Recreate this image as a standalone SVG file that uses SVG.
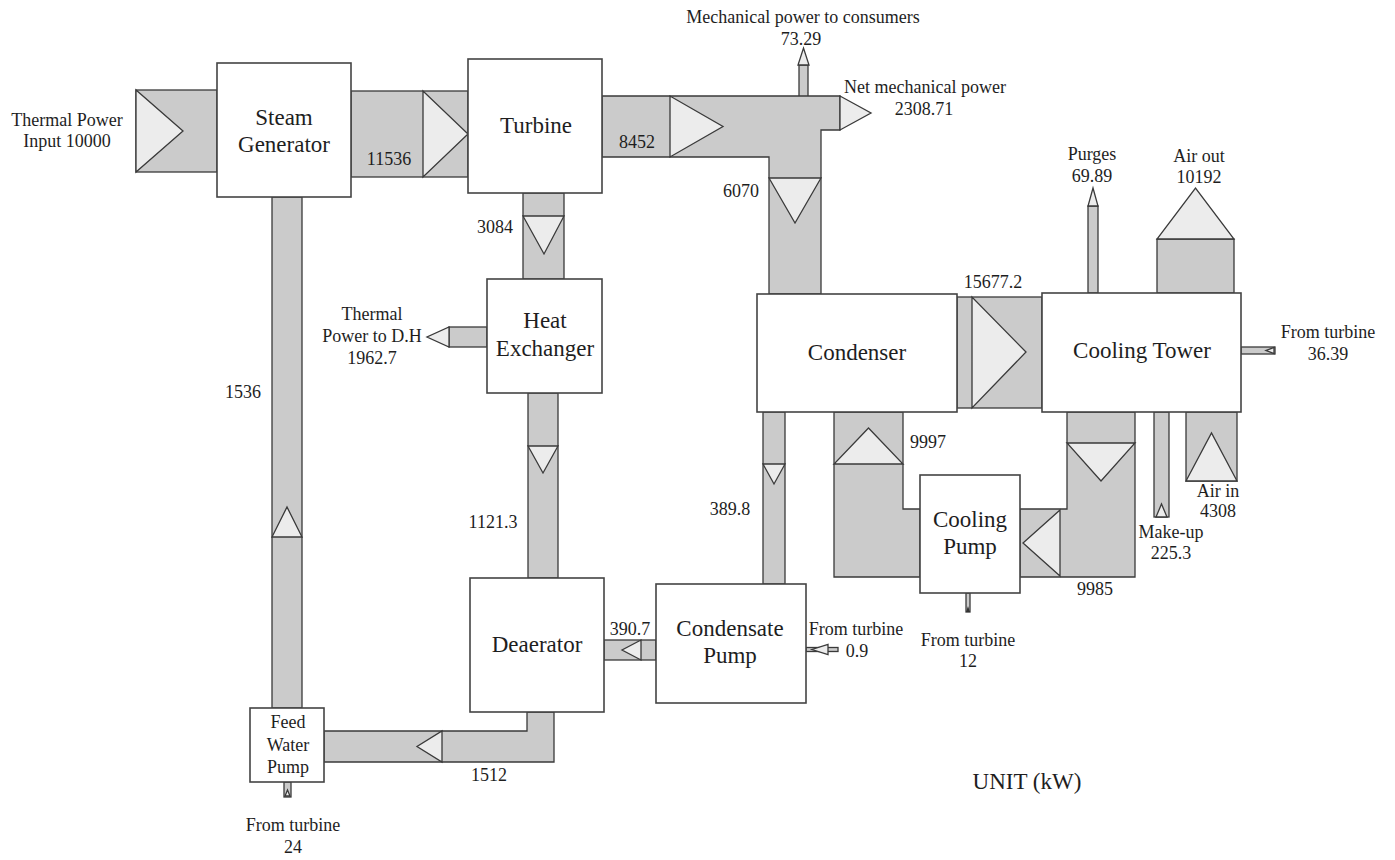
<svg xmlns="http://www.w3.org/2000/svg" width="1395" height="860" viewBox="0 0 1395 860">
<style>
.band{fill:#cbcbcb;stroke:#3a3a3a;stroke-width:1.3}
.tri{fill:#ececec;stroke:#3a3a3a;stroke-width:1.3;stroke-linejoin:miter}
.box{fill:#ffffff;stroke:#444;stroke-width:1.6}
text{font-family:"Liberation Serif","Times New Roman",serif;fill:#1e1e1e;text-anchor:middle}
.n{font-size:23px}
.l{font-size:18px}
</style>
<rect width="1395" height="860" fill="#ffffff"/>
<g id="connectors">
  <!-- thermal input -->
  <rect class="band" x="136" y="90" width="81" height="82"/>
  <polygon class="tri" points="136,90 136,172 183,131"/>
  <!-- SG -> turbine -->
  <rect class="band" x="351" y="91" width="117" height="86"/>
  <polygon class="tri" points="423,91 423,177 468,134"/>
  <!-- turbine -> mech / condenser -->
  <rect class="band" x="799" y="65" width="9" height="32"/>
  <polygon class="tri" points="798,65 809,65 803.5,48"/>
  <path class="band" d="M602 96 L840 96 L840 130 L821 130 L821 294 L769 294 L769 157 L602 157 Z"/>
  <polygon class="tri" points="840,96 840,130 871,113"/>
  <polygon class="tri" points="670,96 670,157 723,126.5"/>
  <polygon class="tri" points="769,178 821,178 795,223"/>
  <!-- turbine -> heat exchanger -->
  <rect class="band" x="523" y="193" width="41" height="86"/>
  <polygon class="tri" points="523,216 564,216 544,254"/>
  <!-- heat exchanger -> DH -->
  <rect class="band" x="449" y="327" width="38" height="20"/>
  <polygon class="tri" points="449,327 449,347 427,337"/>
  <!-- heat exchanger -> deaerator -->
  <rect class="band" x="528" y="393" width="30" height="185"/>
  <polygon class="tri" points="528,446 558,446 543,473"/>
  <!-- SG <- FWP -->
  <rect class="band" x="272" y="197" width="30" height="511"/>
  <polygon class="tri" points="272,537 302,537 287,507"/>
  <!-- deaerator -> FWP -->
  <path class="band" d="M527 712 L554 712 L554 762 L324 762 L324 731 L527 731 Z"/>
  <polygon class="tri" points="442,731 442,762 417,746.5"/>
  <!-- FWP from turbine -->
  <rect class="band" x="284" y="782" width="7" height="15"/>
  <polygon class="tri" points="285,796 290,796 287.5,790"/>
  <!-- condenser -> condensate pump -->
  <rect class="band" x="763" y="412" width="22" height="172"/>
  <polygon class="tri" points="763,464 785,464 774,484"/>
  <!-- condensate pump -> deaerator -->
  <rect class="band" x="604" y="640" width="52" height="20"/>
  <polygon class="tri" points="641,640 641,660 622,650"/>
  <!-- condensate pump from turbine -->
  <rect class="band" x="806" y="647.5" width="32" height="4"/>
  <polygon class="tri" points="828,644.5 828,654.5 812,649.5"/>
  <!-- condenser -> cooling tower -->
  <rect class="band" x="957" y="297" width="85" height="111"/>
  <polygon class="tri" points="972,297 972,408 1026,352"/>
  <!-- condenser <- cooling pump -->
  <path class="band" d="M834 412 L903 412 L903 509 L920 509 L920 577 L834 577 Z"/>
  <polygon class="tri" points="834,464 903,464 868.5,428"/>
  <!-- cooling tower -> cooling pump -->
  <path class="band" d="M1067 412 L1135 412 L1135 577 L1020 577 L1020 509 L1067 509 Z"/>
  <polygon class="tri" points="1067,443 1135,443 1101,481"/>
  <polygon class="tri" points="1060,510 1060,576 1023,543"/>
  <!-- cooling pump from turbine -->
  <rect class="band" x="966" y="593" width="4" height="19"/>
  <polygon points="966,612 970,612 968,606" fill="#333"/>
  <!-- purges -->
  <rect class="band" x="1088" y="206" width="10" height="87"/>
  <polygon class="tri" points="1088,206 1098,206 1093,188"/>
  <!-- air out -->
  <rect class="band" x="1157" y="239" width="77" height="54"/>
  <polygon class="tri" points="1157,239 1234,239 1195.5,188"/>
  <!-- make-up -->
  <rect class="band" x="1154" y="412" width="15" height="105"/>
  <polygon class="tri" points="1156,517 1167,517 1161.5,504"/>
  <!-- air in -->
  <rect class="band" x="1186" y="412" width="51" height="69"/>
  <polygon class="tri" points="1186,481 1237,481 1211.5,433"/>
  <!-- cooling tower from turbine -->
  <rect class="band" x="1241" y="347" width="34" height="7"/>
  <polygon class="tri" points="1274,347.5 1274,353.5 1266,350.5"/>
</g>
<g id="steam-generator">
  <rect class="box" x="217" y="63" width="134" height="134"/>
  <text class="n" x="284" y="125">Steam</text>
  <text class="n" x="284" y="152">Generator</text>
</g>
<g id="turbine">
  <rect class="box" x="468" y="59" width="134" height="134"/>
  <text class="n" x="536" y="133">Turbine</text>
</g>
<g id="heat-exchanger">
  <rect class="box" x="487" y="279" width="115" height="114"/>
  <text class="n" x="545" y="328">Heat</text>
  <text class="n" x="545" y="356">Exchanger</text>
</g>
<g id="deaerator">
  <rect class="box" x="470" y="578" width="134" height="134"/>
  <text class="n" x="537" y="652">Deaerator</text>
</g>
<g id="feed-water-pump">
  <rect class="box" x="250" y="708" width="74" height="74"/>
  <text class="l" x="288" y="728">Feed</text>
  <text class="l" x="288" y="751">Water</text>
  <text class="l" x="288" y="773">Pump</text>
</g>
<g id="condensate-pump">
  <rect class="box" x="656" y="584" width="150" height="119"/>
  <text class="n" x="730" y="636">Condensate</text>
  <text class="n" x="730" y="663">Pump</text>
</g>
<g id="condenser">
  <rect class="box" x="757" y="294" width="200" height="118"/>
  <text class="n" x="857" y="360">Condenser</text>
</g>
<g id="cooling-tower">
  <rect class="box" x="1042" y="293" width="199" height="119"/>
  <text class="n" x="1142" y="358">Cooling Tower</text>
</g>
<g id="cooling-pump">
  <rect class="box" x="920" y="475" width="100" height="118"/>
  <text class="n" x="970" y="527">Cooling</text>
  <text class="n" x="970" y="554">Pump</text>
</g>
<g id="labels" class="l">
  <text class="l" x="67" y="126">Thermal Power</text>
  <text class="l" x="67" y="147">Input 10000</text>
  <text class="l" x="389" y="165">11536</text>
  <text class="l" x="637" y="148">8452</text>
  <text class="l" x="741" y="197">6070</text>
  <text class="l" x="803" y="23">Mechanical power to consumers</text>
  <text class="l" x="801" y="45">73.29</text>
  <text class="l" x="925" y="93">Net mechanical power</text>
  <text class="l" x="924" y="115">2308.71</text>
  <text class="l" x="495" y="233">3084</text>
  <text class="l" x="372" y="320">Thermal</text>
  <text class="l" x="372" y="342">Power to D.H</text>
  <text class="l" x="372" y="364">1962.7</text>
  <text class="l" x="243" y="398">1536</text>
  <text class="l" x="493" y="528">1121.3</text>
  <text class="l" x="730" y="515">389.8</text>
  <text class="l" x="630" y="635">390.7</text>
  <text class="l" x="856" y="635">From turbine</text>
  <text class="l" x="857" y="657">0.9</text>
  <text class="l" x="489" y="781">1512</text>
  <text class="l" x="293" y="831">From turbine</text>
  <text class="l" x="293" y="853">24</text>
  <text class="l" x="968" y="646">From turbine</text>
  <text class="l" x="968" y="667">12</text>
  <text class="l" x="1095" y="595">9985</text>
  <text class="l" x="928" y="448">9997</text>
  <text class="l" x="993" y="288">15677.2</text>
  <text class="l" x="1171" y="538">Make-up</text>
  <text class="l" x="1171" y="559">225.3</text>
  <text class="l" x="1218" y="497">Air in</text>
  <text class="l" x="1218" y="517">4308</text>
  <text class="l" x="1328" y="338">From turbine</text>
  <text class="l" x="1328" y="360">36.39</text>
  <text class="l" x="1092" y="160">Purges</text>
  <text class="l" x="1092" y="182">69.89</text>
  <text class="l" x="1199" y="162">Air out</text>
  <text class="l" x="1199" y="183">10192</text>
  <text class="n" x="1027" y="789">UNIT (kW)</text>
</g>
</svg>
